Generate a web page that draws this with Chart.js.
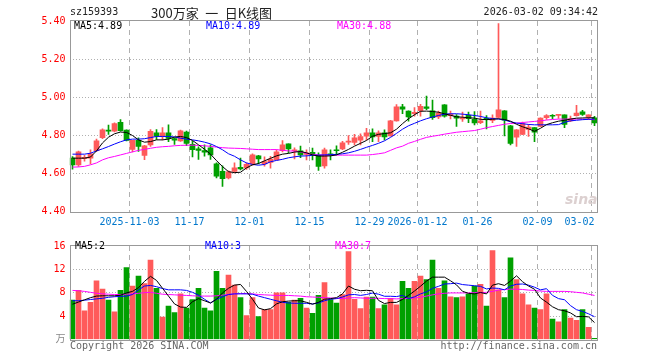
<!DOCTYPE html>
<html>
<head>
<meta charset="utf-8">
<script src="https://cdn.jsdelivr.net/npm/chart.js@4.4.1/dist/chart.umd.min.js"></script>
<style>
  body { margin: 0; width: 660px; height: 360px; background: #fff; position: relative; overflow: hidden;
         font-family: "DejaVu Sans Mono", "Noto Sans CJK SC", monospace; font-size: 10px; }
  canvas { position: absolute; left: 0; }
  #price { top: 0; }
  #vol { top: 236px; }
  .t { position: absolute; white-space: pre; line-height: 12px; z-index: 2; }
</style>
</head>
<body>
<canvas id="price" width="660" height="236"></canvas>
<canvas id="vol" width="660" height="124"></canvas>

<div class="t" style="left:70px;top:6px;color:#222">sz159393</div>
<div class="t" style="left:151px;top:5px;font-family:'Noto Sans CJK SC';font-size:13px;line-height:15px;color:#222">300万家&ensp;一&ensp;日K线图</div>
<div class="t" style="right:62px;top:6px;color:#222">2026-03-02 09:34:42</div>

<div class="t" style="left:74px;top:20px;color:#000">MA5:4.89</div>
<div class="t" style="left:206px;top:20px;color:#0000ff">MA10:4.89</div>
<div class="t" style="left:337px;top:20px;color:#ff00ff">MA30:4.88</div>
<div class="t" style="left:565px;top:191px;color:#dcd0d0;font-family:'DejaVu Sans';font-style:italic;font-weight:bold;font-size:14px;line-height:16px">sina</div>

<div class="t" style="left:75px;top:240px;color:#000">MA5:2</div>
<div class="t" style="left:205px;top:240px;color:#0000ff">MA10:3</div>
<div class="t" style="left:335px;top:240px;color:#ff00ff">MA30:7</div>

<div class="t" style="left:70px;top:340px;color:#666">Copyright 2026 SINA.COM</div>
<div class="t" style="right:63px;top:340px;color:#666">http://finance.sina.com.cn</div>

<script>
// trading days, 2025-10-20 .. 2026-03-02
const dates = [
  '2025-10-20','2025-10-21','2025-10-22','2025-10-23','2025-10-24','2025-10-27','2025-10-28','2025-10-29','2025-10-30','2025-10-31',
  '2025-11-03','2025-11-04','2025-11-05','2025-11-06','2025-11-07','2025-11-10','2025-11-11','2025-11-12','2025-11-13','2025-11-14',
  '2025-11-17','2025-11-18','2025-11-19','2025-11-20','2025-11-21','2025-11-24','2025-11-25','2025-11-26','2025-11-27','2025-11-28',
  '2025-12-01','2025-12-02','2025-12-03','2025-12-04','2025-12-05','2025-12-08','2025-12-09','2025-12-10','2025-12-11','2025-12-12',
  '2025-12-15','2025-12-16','2025-12-17','2025-12-18','2025-12-19','2025-12-22','2025-12-23','2025-12-24','2025-12-25','2025-12-26',
  '2025-12-29','2025-12-30','2025-12-31','2026-01-05','2026-01-06','2026-01-07','2026-01-08','2026-01-09','2026-01-12','2026-01-13',
  '2026-01-14','2026-01-15','2026-01-16','2026-01-19','2026-01-20','2026-01-21','2026-01-22','2026-01-23','2026-01-26','2026-01-27',
  '2026-01-28','2026-01-29','2026-01-30','2026-02-02','2026-02-03','2026-02-04','2026-02-05','2026-02-06','2026-02-09','2026-02-10',
  '2026-02-11','2026-02-12','2026-02-13','2026-02-24','2026-02-25','2026-02-26','2026-02-27','2026-03-02'
];

const openPx = [
  4.680,4.645,4.677,4.680,4.719,4.787,4.826,4.822,4.868,4.827,
  4.726,4.773,4.695,4.750,4.813,4.797,4.813,4.783,4.771,4.817,
  4.753,4.729,4.720,4.734,4.650,4.611,4.576,4.611,4.632,4.629,
  4.648,4.692,4.650,4.657,4.671,4.719,4.755,4.719,4.719,4.700,
  4.711,4.695,4.639,4.703,4.722,4.729,4.764,4.763,4.775,4.795,
  4.813,4.794,4.813,4.797,4.876,4.950,4.927,4.913,4.929,4.950,
  4.929,4.897,4.960,4.903,4.901,4.886,4.905,4.884,4.866,4.888,
  4.878,4.894,4.929,4.850,4.790,4.804,4.831,4.840,4.847,4.893,
  4.903,4.905,4.907,4.876,4.903,4.923,4.895,4.892
];
const highPx = [
  4.688,4.717,4.695,4.724,4.780,4.834,4.853,4.866,4.882,4.829,
  4.773,4.787,4.747,4.830,4.830,4.840,4.855,4.787,4.827,4.822,
  4.768,4.740,4.750,4.750,4.655,4.640,4.613,4.655,4.680,4.655,
  4.703,4.695,4.687,4.690,4.724,4.772,4.755,4.734,4.743,4.724,
  4.733,4.708,4.733,4.724,4.745,4.769,4.798,4.805,4.808,4.836,
  4.834,4.824,4.829,4.878,4.961,4.962,4.929,4.945,4.963,5.006,
  4.985,4.927,4.961,4.927,4.909,4.922,4.922,4.924,4.927,4.903,
  4.908,5.387,4.930,4.852,4.830,4.870,4.857,4.840,4.892,4.909,
  4.909,4.909,4.908,4.901,4.957,4.931,4.908,4.900
];
const lowPx = [
  4.622,4.637,4.664,4.650,4.715,4.782,4.805,4.818,4.822,4.771,
  4.713,4.716,4.672,4.741,4.778,4.776,4.766,4.752,4.768,4.745,
  4.687,4.673,4.690,4.673,4.576,4.532,4.571,4.603,4.618,4.621,
  4.643,4.650,4.638,4.627,4.671,4.713,4.708,4.676,4.682,4.671,
  4.671,4.615,4.627,4.671,4.697,4.724,4.752,4.750,4.750,4.776,
  4.766,4.766,4.776,4.795,4.874,4.913,4.874,4.900,4.900,4.934,
  4.883,4.887,4.895,4.886,4.847,4.873,4.866,4.855,4.861,4.834,
  4.866,4.891,4.797,4.750,4.742,4.803,4.794,4.766,4.845,4.883,
  4.887,4.888,4.840,4.871,4.901,4.905,4.883,4.850
];
const closePx = [
  4.645,4.713,4.685,4.703,4.771,4.829,4.822,4.861,4.824,4.773,
  4.773,4.742,4.745,4.821,4.796,4.813,4.784,4.774,4.824,4.758,
  4.724,4.720,4.712,4.697,4.585,4.572,4.608,4.629,4.624,4.648,
  4.697,4.676,4.662,4.675,4.713,4.750,4.729,4.724,4.697,4.708,
  4.700,4.637,4.724,4.697,4.719,4.761,4.766,4.787,4.793,4.813,
  4.791,4.813,4.791,4.876,4.950,4.937,4.897,4.921,4.952,4.941,
  4.892,4.916,4.901,4.911,4.890,4.888,4.887,4.865,4.876,4.884,
  4.890,4.934,4.879,4.757,4.829,4.862,4.843,4.817,4.891,4.904,
  4.900,4.908,4.857,4.887,4.917,4.909,4.907,4.865
];

// moving averages as drawn on the chart
const ma5 = [
  4.680,4.680,4.680,4.686,4.718,4.760,4.790,4.808,4.817,4.815,
  4.799,4.776,4.764,4.767,4.776,4.776,4.780,4.791,4.794,4.788,
  4.773,4.750,4.727,4.701,4.667,4.636,4.609,4.604,4.606,4.629,
  4.645,4.652,4.666,4.679,4.692,4.701,4.705,4.712,4.715,4.708,
  4.697,4.691,4.691,4.692,4.697,4.711,4.726,4.743,4.758,4.773,
  4.795,4.805,4.809,4.813,4.832,4.861,4.887,4.908,4.926,4.927,
  4.925,4.921,4.913,4.905,4.897,4.895,4.892,4.890,4.884,4.882,
  4.884,4.887,4.883,4.874,4.858,4.845,4.834,4.821,4.837,4.856,
  4.866,4.874,4.879,4.885,4.890,4.891,4.892,4.892
];
const ma10 = [
  4.701,4.701,4.701,4.706,4.718,4.729,4.741,4.754,4.766,4.776,
  4.780,4.780,4.782,4.788,4.794,4.794,4.794,4.791,4.785,4.780,
  4.776,4.771,4.764,4.755,4.741,4.724,4.703,4.690,4.671,4.655,
  4.647,4.643,4.647,4.661,4.668,4.674,4.682,4.687,4.691,4.692,
  4.695,4.696,4.697,4.698,4.700,4.703,4.708,4.716,4.726,4.737,
  4.747,4.758,4.771,4.789,4.810,4.832,4.850,4.863,4.876,4.887,
  4.896,4.904,4.911,4.913,4.913,4.911,4.908,4.904,4.899,4.892,
  4.888,4.885,4.880,4.871,4.864,4.861,4.857,4.855,4.855,4.855,
  4.855,4.856,4.868,4.876,4.879,4.882,4.884,4.885
];
const ma30 = [
  4.633,4.634,4.637,4.645,4.655,4.671,4.682,4.689,4.697,4.705,
  4.713,4.721,4.726,4.732,4.737,4.740,4.742,4.745,4.747,4.748,
  4.748,4.747,4.745,4.742,4.738,4.735,4.733,4.732,4.731,4.729,
  4.727,4.725,4.725,4.725,4.725,4.721,4.718,4.717,4.713,4.705,
  4.700,4.697,4.696,4.696,4.696,4.696,4.696,4.696,4.696,4.696,
  4.699,4.703,4.708,4.721,4.734,4.743,4.758,4.768,4.779,4.789,
  4.795,4.800,4.806,4.811,4.816,4.819,4.822,4.825,4.832,4.840,
  4.846,4.852,4.858,4.862,4.864,4.867,4.870,4.873,4.876,4.880,
  4.883,4.885,4.885,4.885,4.885,4.885,4.884,4.882
];

const vol = [
  6.73,8.40,4.91,6.36,10.06,8.61,6.73,4.75,8.40,12.31,
  9.15,10.86,9.58,13.60,8.77,3.84,5.71,4.59,7.81,5.39,
  6.84,8.77,5.39,4.91,11.67,8.77,11.02,9.31,7.16,4.10,
  7.16,3.94,5.12,5.12,7.97,7.97,6.36,6.73,7.05,5.39,
  4.48,7.54,9.74,6.84,6.25,7.70,15.05,6.89,5.28,7.27,
  7.27,5.28,5.93,7.05,5.93,9.95,8.77,9.95,10.86,10.27,
  13.60,8.77,10.06,7.32,7.16,7.32,7.81,9.15,9.42,5.71,
  15.21,8.50,7.16,13.97,10.27,7.81,5.93,5.39,5.12,7.81,
  3.51,3.03,5.12,3.67,3.30,5.12,2.07,0.19
];
const volMa5 = [
  6.04,6.41,6.79,7.16,7.43,7.48,7.48,7.48,7.59,7.97,
  8.23,8.88,9.95,10.81,10.11,8.77,7.43,6.09,5.55,5.50,
  6.46,7.00,6.63,6.25,6.89,7.97,8.77,9.31,9.42,8.23,
  6.89,5.39,5.07,5.28,6.09,6.46,6.57,6.63,6.63,6.36,
  6.04,6.36,6.89,7.00,7.16,7.81,9.15,8.60,8.35,8.42,
  8.34,6.70,6.15,6.35,6.35,6.85,7.54,8.30,9.12,10.00,
  10.67,10.67,10.67,10.05,9.35,8.25,7.90,7.80,8.05,7.80,
  9.30,9.55,9.25,10.00,10.90,9.90,9.15,8.60,7.10,6.40,
  5.60,5.10,4.92,4.55,3.90,3.95,3.87,2.90
];
const volMa10 = [
  6.63,6.63,6.73,6.84,6.95,7.05,7.22,7.32,7.38,7.43,
  7.70,8.50,9.15,9.25,9.04,8.72,8.50,8.50,8.50,8.40,
  8.07,7.59,6.89,6.25,6.89,7.32,7.70,7.81,7.81,7.81,
  7.75,7.43,7.16,6.89,6.63,6.36,6.25,6.20,6.20,6.20,
  6.09,6.25,6.63,6.89,7.00,7.27,7.64,7.70,7.55,7.70,
  7.95,7.75,7.40,7.40,7.35,7.55,7.00,7.30,7.80,8.15,
  8.75,9.10,9.50,9.55,9.65,9.40,9.30,9.20,9.10,8.65,
  8.80,8.75,8.50,9.15,9.45,9.50,9.30,8.95,8.50,8.70,
  7.55,7.00,6.80,5.80,5.10,4.80,4.40,3.90
];
const volMa30 = [
  8.40,8.34,8.23,8.07,7.91,7.81,7.75,7.70,7.70,7.75,
  7.81,7.91,8.02,8.07,7.91,7.75,7.70,7.64,7.59,7.54,
  7.48,7.43,7.43,7.43,7.48,7.59,7.70,7.81,7.86,7.86,
  7.81,7.70,7.64,7.59,7.54,7.54,7.54,7.48,7.43,7.32,
  7.27,7.22,7.16,7.11,7.05,7.00,7.11,7.16,7.11,7.05,
  7.05,7.05,7.00,7.00,6.95,7.00,7.05,7.11,7.22,7.43,
  7.64,7.81,7.91,7.97,7.97,7.97,7.97,8.02,8.02,8.07,
  8.23,8.45,8.56,8.61,8.61,8.56,8.45,8.40,8.29,8.23,
  8.23,8.23,8.23,8.18,8.07,7.97,7.75,7.54
];

// x-axis tick labels (dashed grid at the same days)
const tickDates = ['2025-11-03','2025-11-17','2025-12-01','2025-12-15','2025-12-29','2026-01-12','2026-01-26','2026-02-09','2026-03-02'];
const tickText  = ['2025-11-03','11-17','12-01','12-15','12-29','2026-01-12','01-26','02-09','03-02    '];

const RED = '#ff5a5a';
const GREEN = '#00a000';
const GRID = '#b0b0b0';
const FONT = { family: "'DejaVu Sans Mono','Noto Sans CJK SC',monospace", size: 10 };

const upDown = dates.map((d, i) => closePx[i] >= openPx[i] ? RED : GREEN);
const tickIdx = tickDates.map(d => dates.indexOf(d));

// grey frame round the plot area
const frame = {
  id: 'frame',
  afterDraw(chart) {
    const { ctx, chartArea: a } = chart;
    ctx.save();
    ctx.strokeStyle = '#999999';
    ctx.lineWidth = 1;
    ctx.strokeRect(Math.round(a.left) + 0.5, Math.round(a.top) - 0.5,
                   Math.round(a.right - a.left) - 1, Math.round(a.bottom - a.top) + 1);
    ctx.restore();
  }
};

function xScale(showLabels) {
  return {
    offset: true,
    grid: {
      offset: true,
      drawTicks: false,
      lineWidth: 1,
      color: ctx => tickIdx.includes(ctx.index) ? GRID : 'rgba(0,0,0,0)'
    },
    border: { display: false, dash: [5, 4] },
    ticks: {
      display: showLabels,
      autoSkip: false,
      maxRotation: 0,
      minRotation: 0,
      padding: 5,
      labelOffset: -3,
      color: '#0077cc',
      font: FONT,
      callback: (v, i) => {
        const k = tickIdx.indexOf(i);
        return k >= 0 ? tickText[k] : '';
      }
    }
  };
}

function lineSet(label, data, color) {
  return { type: 'line', label, data, borderColor: color, borderWidth: 1, pointRadius: 0, tension: 0, order: 0 };
}

const common = {
  responsive: false,
  animation: false,
  events: [],
  plugins: { legend: { display: false }, tooltip: { enabled: false } }
};

// price panel
const px = xScale(true);
px.afterFit = s => { s.height = 24.5; };
new Chart(document.getElementById('price'), {
  type: 'bar',
  data: {
    labels: dates,
    datasets: [
      lineSet('MA5', ma5, '#000000'),
      lineSet('MA10', ma10, '#0000ff'),
      lineSet('MA30', ma30, '#ff00ff'),
      {
        label: 'body',
        data: dates.map((d, i) => [openPx[i], closePx[i]]),
        backgroundColor: upDown,
        barThickness: 5,
        minBarLength: 1,
        grouped: false,
        order: 1
      },
      {
        label: 'wick',
        data: dates.map((d, i) => [lowPx[i], highPx[i]]),
        backgroundColor: upDown,
        barThickness: 1,
        grouped: false,
        order: 2
      }
    ]
  },
  options: {
    ...common,
    layout: { padding: { top: 21, right: 62.5, left: 0, bottom: 0 } },
    scales: {
      x: px,
      y: {
        min: 4.4,
        max: 5.4,
        afterFit: s => { s.width = 69.5; },
        grid: {
          drawTicks: false,
          color: ctx => (ctx.tick && ctx.tick.value > 4.41 && ctx.tick.value < 5.39) ? GRID : 'rgba(0,0,0,0)'
        },
        border: { display: false, dash: [1, 2] },
        ticks: { stepSize: 0.2, padding: 4, color: '#ff0000', font: FONT, callback: v => v.toFixed(2) }
      }
    }
  },
  plugins: [frame]
});

// volume panel
const vx = xScale(false);
vx.afterFit = s => { s.height = 20.5; };
new Chart(document.getElementById('vol'), {
  type: 'bar',
  data: {
    labels: dates,
    datasets: [
      lineSet('MA5', volMa5, '#000000'),
      lineSet('MA10', volMa10, '#0000ff'),
      lineSet('MA30', volMa30, '#ff00ff'),
      { label: 'vol', data: vol, backgroundColor: upDown, barThickness: 5, grouped: false, order: 1 }
    ]
  },
  options: {
    ...common,
    layout: { padding: { top: 4, right: 62.5, left: 0, bottom: 0 } },
    scales: {
      x: vx,
      y: {
        min: 0,
        max: 16,
        afterFit: s => { s.width = 69.5; },
        grid: {
          drawTicks: false,
          color: ctx => (ctx.tick && ctx.tick.value > 0 && ctx.tick.value < 16) ? GRID : 'rgba(0,0,0,0)'
        },
        border: { display: false, dash: [1, 2] },
        ticks: {
          stepSize: 4,
          padding: 4,
          font: FONT,
          color: ctx => ctx.tick && ctx.tick.value === 0 ? '#888888' : '#ff0000',
          callback: v => v === 0 ? '万' : String(v)
        }
      }
    }
  },
  plugins: [frame]
});
</script>
</body>
</html>
